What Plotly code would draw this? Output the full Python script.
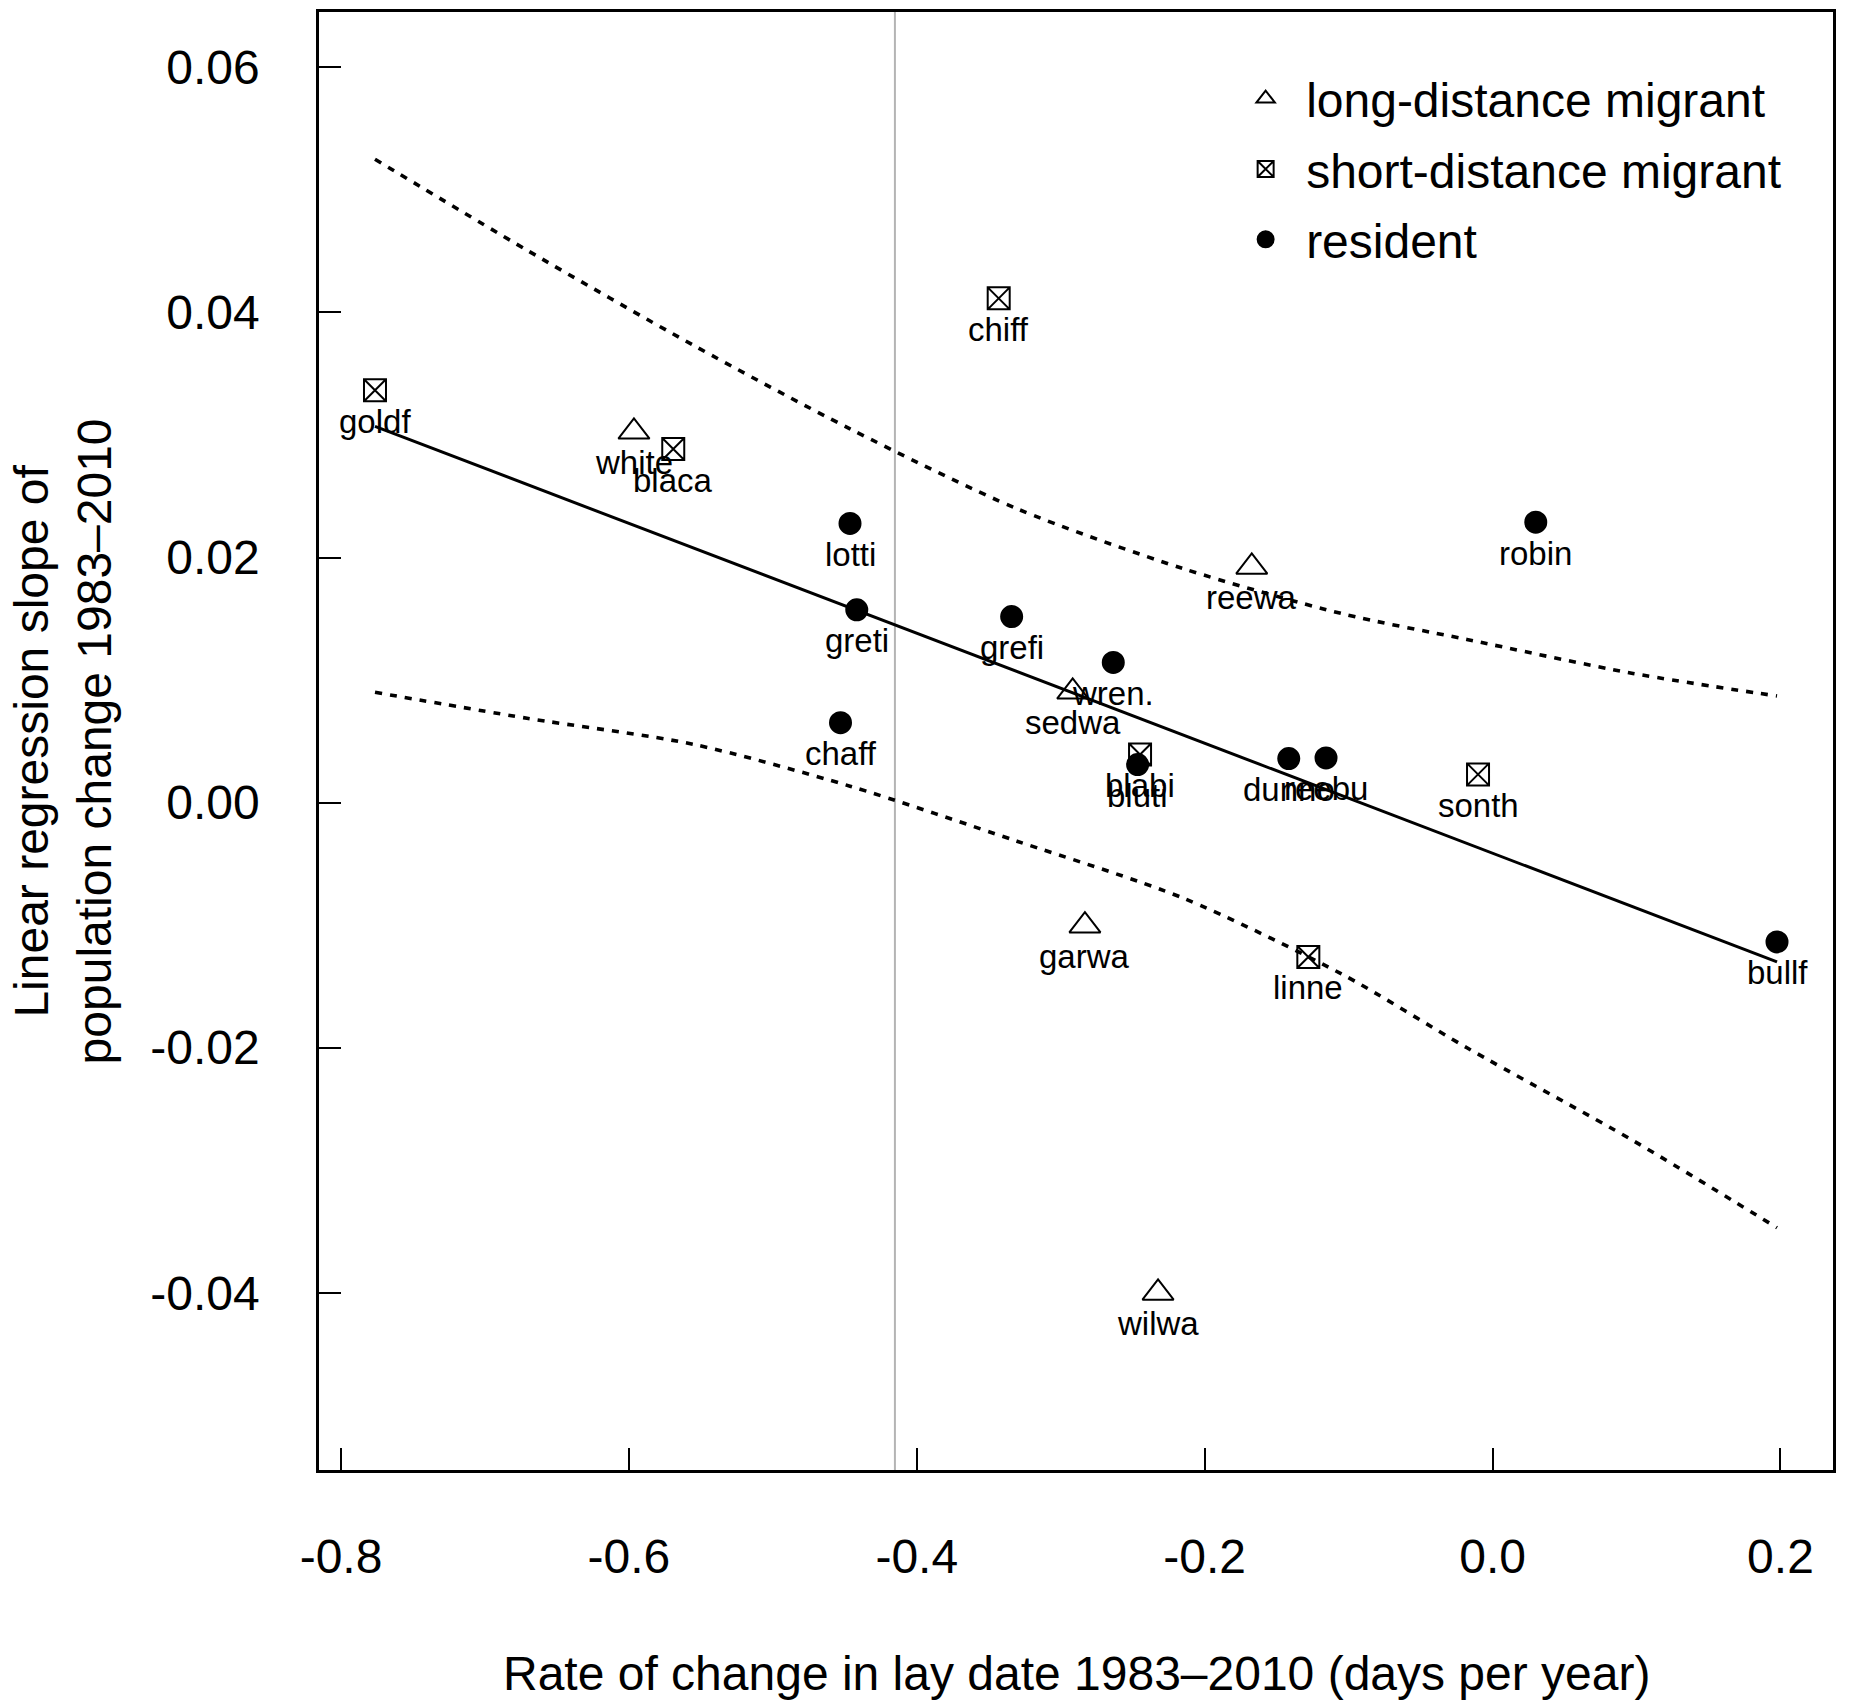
import plotly.graph_objects as go

# ---------------- data ----------------
species = ["goldf", "white", "blaca", "lotti", "greti", "chaff", "chiff",
           "grefi", "wren.", "sedwa", "blabi", "bluti", "garwa", "wilwa",
           "reewa", "dunno", "reebu", "linne", "sonth", "robin", "bullf"]
status = ["short", "long", "short", "resident", "resident", "resident", "short",
          "resident", "resident", "long", "short", "resident", "long", "long",
          "long", "resident", "resident", "short", "short", "resident", "resident"]
lay_rate = [-0.7764, -0.5965, -0.5692, -0.4464, -0.4417, -0.4530, -0.3431,
            -0.3341, -0.2635, -0.2917, -0.2449, -0.2466, -0.2832, -0.2324,
            -0.1673, -0.1416, -0.1157, -0.1280, -0.0101, 0.0300, 0.1976]
pop_slope = [0.03365, 0.03026, 0.02885, 0.02278, 0.01573, 0.00652, 0.04115,
             0.01518, 0.01144, 0.00904, 0.00392, 0.00310, -0.01005, -0.04002,
             0.01923, 0.00359, 0.00364, -0.01260, 0.00230, 0.02288, -0.01137]

fit_x = [-0.7764, 0.1976]
fit_y = [0.0307, -0.0130]

band_x = [-0.7764, -0.6708, -0.5555, -0.4464, -0.3304, -0.2151, -0.1050,
          -0.0178, 0.0975, 0.1976]
band_upper = [0.0525, 0.04508, 0.03734, 0.0305, 0.02398, 0.0191, 0.01543,
              0.01331, 0.01054, 0.0087]
band_lower = [0.0090, 0.00688, 0.00476, 0.00134, -0.00315, -0.00779, -0.01398,
              -0.02001, -0.02758, -0.0347]

ref_x = -0.4152

x_ticks = [-0.8, -0.6, -0.4, -0.2, 0.0, 0.2]
x_ticklabels = ["-0.8", "-0.6", "-0.4", "-0.2", "0.0", "0.2"]
y_ticks = [-0.04, -0.02, 0.00, 0.02, 0.04, 0.06]
y_ticklabels = ["-0.04", "-0.02", "0.00", "0.02", "0.04", "0.06"]

groups = [("long", "long-distance migrant", "triangle-up-open", 27),
          ("short", "short-distance migrant", "square-x-open", 22),
          ("resident", "resident", "circle", 21)]

FONT = "Liberation Sans, Arial, Helvetica, sans-serif"

fig = go.Figure()

# vertical reference line
fig.add_trace(go.Scatter(x=[ref_x, ref_x], y=[-0.0545, 0.0646], mode="lines",
                         line=dict(color="#b4b4b4", width=2), showlegend=False,
                         hoverinfo="skip"))
# confidence bands
for band in (band_upper, band_lower):
    fig.add_trace(go.Scatter(x=band_x, y=band, mode="lines",
                             line=dict(color="black", width=3.6, dash="7px,8px",
                                       shape="spline", smoothing=0.8),
                             showlegend=False, hoverinfo="skip"))
# regression line
fig.add_trace(go.Scatter(x=fit_x, y=fit_y, mode="lines",
                         line=dict(color="black", width=3), showlegend=False,
                         hoverinfo="skip"))

for key, name, sym, size in groups:
    xs = [x for x, s in zip(lay_rate, status) if s == key]
    ys = [y for y, s in zip(pop_slope, status) if s == key]
    fig.add_trace(go.Scatter(
        x=xs, y=ys, mode="markers", name=name, legendgroup=key,
        marker=dict(symbol=sym, size=size, color="black",
                    line=dict(color="black", width=2))))

annotations = []
for sp, x, y in zip(species, lay_rate, pop_slope):
    annotations.append(dict(x=x, y=y, xref="x", yref="y", text=sp,
                            showarrow=False, yshift=-31, xanchor="center",
                            yanchor="middle",
                            font=dict(family=FONT, size=33, color="black")))

annotations.append(dict(x=0.5, y=-0.1396, xref="paper", yref="paper",
                        text="Rate of change in lay date 1983\u20132010 (days per year)",
                        showarrow=False, xanchor="center", yanchor="middle",
                        font=dict(family=FONT, size=48, color="black")))
annotations.append(dict(x=-0.1695, y=0.5, xref="paper", yref="paper",
                        text="Linear regression slope of<br>population change 1983\u20132010",
                        showarrow=False, xanchor="center", yanchor="middle",
                        textangle=-90,
                        font=dict(family=FONT, size=48, color="black")))

fig.update_layout(
    width=1851, height=1701,
    margin=dict(l=319, r=18, t=9, b=231, pad=0),
    paper_bgcolor="white", plot_bgcolor="white",
    font=dict(family=FONT, size=48, color="black"),
    showlegend=True,
    legend=dict(x=0.5985, y=0.9665, xanchor="left", yanchor="top",
                bgcolor="rgba(0,0,0,0)", borderwidth=0,
                font=dict(family=FONT, size=48, color="black"),
                traceorder="grouped", tracegroupgap=5, itemwidth=71),
    annotations=annotations,
    xaxis=dict(range=[-0.8153, 0.2365], tickmode="array", tickvals=x_ticks,
               ticktext=x_ticklabels, ticks="inside", ticklen=22, tickwidth=2,
               tickcolor="black", showline=True, linecolor="black", linewidth=2.5,
               mirror=True, showgrid=False, zeroline=False,
               ticklabelstandoff=43,
               tickfont=dict(family=FONT, size=48, color="black")),
    yaxis=dict(range=[-0.05447, 0.06452], tickmode="array", tickvals=y_ticks,
               ticktext=y_ticklabels, ticks="inside", ticklen=22, tickwidth=2,
               tickcolor="black", showline=True, linecolor="black", linewidth=2.5,
               mirror=True, showgrid=False, zeroline=False,
               ticklabelstandoff=47,
               tickfont=dict(family=FONT, size=48, color="black")),
)

fig.write_html("out.html")
